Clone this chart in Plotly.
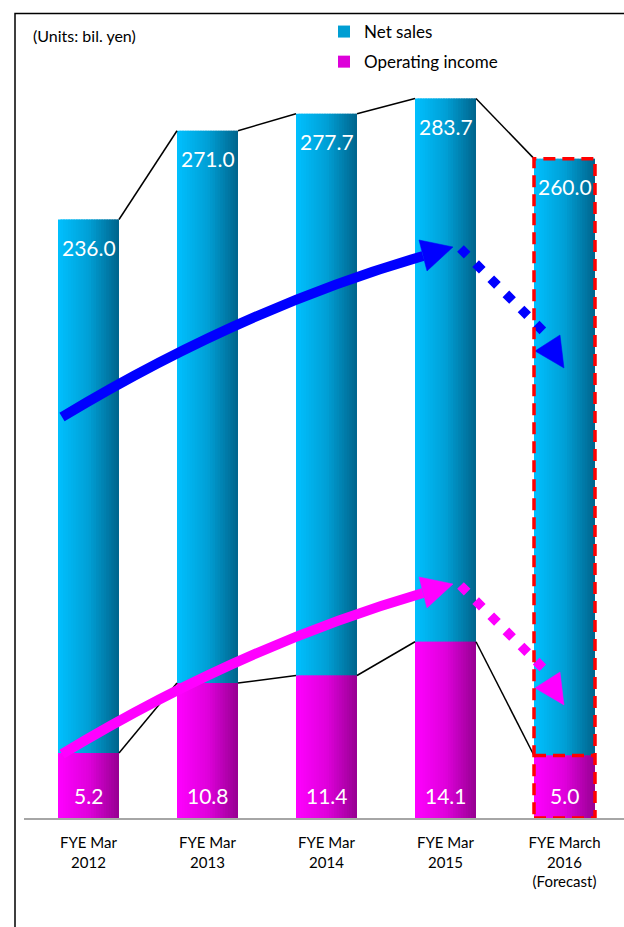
import plotly.graph_objects as go

# ---- data ----
categories = ["FYE Mar<br>2012", "FYE Mar<br>2013", "FYE Mar<br>2014",
              "FYE Mar<br>2015", "FYE March<br>2016<br>(Forecast)"]
net_sales = [236.0, 271.0, 277.7, 283.7, 260.0]
operating_income = [5.2, 10.8, 11.4, 14.1, 5.0]
net_sales_labels = ["236.0", "271.0", "277.7", "283.7", "260.0"]
oi_labels = ["5.2", "10.8", "11.4", "14.1", "5.0"]

# ---- layout geometry (pixels) ----
W_FIG, H_FIG = 624, 927
L, T = 24, 20
PW, PH = 600, 798
BASE = T + PH  # 818
NS_PX = 2.536   # px per bil. yen (net sales axis)
OI_PX = 12.5    # px per bil. yen (operating income axis)
CAT_PX = 119
FIRST_C = 88.5
BAR_W = 61 / CAT_PX

def px(x):
    return (x - L) / PW

def py(y):
    return (BASE - y) / PH

def lerp_color(stops, t):
    for (t0, c0), (t1, c1) in zip(stops[:-1], stops[1:]):
        if t0 <= t <= t1:
            f = (t - t0) / (t1 - t0)
            c = [round(a + (b - a) * f) for a, b in zip(c0, c1)]
            return "rgb(%d,%d,%d)" % tuple(c)
    return "rgb(%d,%d,%d)" % tuple(stops[-1][1])

blue_stops = [(0, (0, 192, 255)), (0.5, (0, 160, 214)), (1, (0, 100, 140))]
mag_stops = [(0, (255, 0, 255)), (0.5, (224, 0, 220)), (1, (150, 0, 145))]

xs = list(range(len(categories)))
fig = go.Figure()

N = 24
def add_gradient_bars(values, stops, yaxis, name, group):
    for k in range(N):
        start = -BAR_W / 2 + k * BAR_W / N
        width = min(1.8 * BAR_W / N, BAR_W / 2 - start)
        fig.add_trace(go.Bar(
            x=xs, y=values, width=[width] * len(xs), offset=[start] * len(xs),
            marker=dict(color=lerp_color(stops, (k + 0.5) / N), line=dict(width=0)),
            yaxis=yaxis, name=name, legendgroup=group,
            showlegend=(k == N // 2), hoverinfo="skip"))

add_gradient_bars(net_sales, blue_stops, "y", "Net sales", "ns")
add_gradient_bars(operating_income, mag_stops, "y2", "Operating income", "oi")

# connector lines between bar tops
def connector(values, yaxis):
    lx, ly = [], []
    for i in range(len(values) - 1):
        lx += [i + BAR_W / 2, i + 1 - BAR_W / 2, None]
        ly += [values[i], values[i + 1], None]
    fig.add_trace(go.Scatter(x=lx, y=ly, mode="lines", yaxis=yaxis,
                             line=dict(color="black", width=1.5),
                             showlegend=False, hoverinfo="skip"))

connector(net_sales, "y")
connector(operating_income, "y2")

annotations = []
FONT = "Lato"
for i in xs:
    annotations.append(dict(x=i, y=net_sales[i], xref="x", yref="y",
                            text=net_sales_labels[i], showarrow=False,
                            yanchor="middle", yshift=-28,
                            font=dict(family=FONT, size=21, color="white")))
    annotations.append(dict(x=i, y=0, xref="x", yref="y2",
                            text=oi_labels[i], showarrow=False,
                            yanchor="middle", yshift=23,
                            font=dict(family=FONT, size=21, color="white")))

annotations.append(dict(x=px(31), y=py(35), xref="paper", yref="paper",
                        text="(Units: bil. yen)", showarrow=False,
                        xanchor="left", yanchor="middle",
                        font=dict(family=FONT, size=16, color="black")))

shapes = []
# frame
shapes.append(dict(type="rect", xref="paper", yref="paper",
                   x0=px(15), x1=px(720), y0=py(13.5), y1=py(1000),
                   line=dict(color="black", width=1.5), layer="below"))

def arrow_set(color, dy):
    # solid curved arrow
    p0 = (62, 417 + dy); c = (241, 309 + dy); p2 = (423, 256 + dy)
    path = "M %f %f Q %f %f %f %f" % (px(p0[0]), py(p0[1]), px(c[0]), py(c[1]),
                                      px(p2[0]), py(p2[1]))
    shapes.append(dict(type="path", xref="paper", yref="paper", path=path,
                       line=dict(color=color, width=10), layer="above"))
    tri = [(453, 247 + dy), (419, 240 + dy), (427, 271 + dy)]
    shapes.append(dict(type="path", xref="paper", yref="paper",
                       path="M %f %f L %f %f L %f %f Z" % (px(tri[0][0]), py(tri[0][1]),
                                                          px(tri[1][0]), py(tri[1][1]),
                                                          px(tri[2][0]), py(tri[2][1])),
                       fillcolor=color, line=dict(color=color, width=0.5), layer="above"))
    # dotted arrow
    shapes.append(dict(type="line", xref="paper", yref="paper",
                       x0=px(460.5), y0=py(248.5 + dy), x1=px(545), y1=py(333 + dy),
                       line=dict(color=color, width=9.4, dash="9.4px,12px"), layer="above"))
    tri2 = [(564, 368 + dy), (535, 351 + dy), (560, 335 + dy)]
    shapes.append(dict(type="path", xref="paper", yref="paper",
                       path="M %f %f L %f %f L %f %f Z" % (px(tri2[0][0]), py(tri2[0][1]),
                                                          px(tri2[1][0]), py(tri2[1][1]),
                                                          px(tri2[2][0]), py(tri2[2][1])),
                       fillcolor=color, line=dict(color=color, width=0.5), layer="above"))

arrow_set("#0000FF", 0)
arrow_set("#FF00FF", 337)

# red dashed forecast box
fx = len(xs) - 1
shapes.append(dict(type="rect", xref="x", yref="y",
                   x0=fx - BAR_W / 2, x1=fx + BAR_W / 2, y0=0, y1=net_sales[fx],
                   line=dict(color="#FF0000", width=3.5, dash="12px,7px"), layer="above"))
shapes.append(dict(type="line", xref="x", yref="y2",
                   x0=fx - BAR_W / 2, x1=fx + BAR_W / 2,
                   y0=operating_income[fx], y1=operating_income[fx],
                   line=dict(color="#FF0000", width=3.5, dash="12px,7px"), layer="above"))

x_lo = -(FIRST_C - L) / CAT_PX
x_hi = (len(xs) - 1) + (L + PW - (FIRST_C + CAT_PX * (len(xs) - 1))) / CAT_PX

fig.update_layout(
    width=W_FIG, height=H_FIG,
    margin=dict(l=L, r=W_FIG - L - PW, t=T, b=H_FIG - BASE, pad=0),
    paper_bgcolor="white", plot_bgcolor="white",
    barmode="overlay",
    font=dict(family=FONT, color="black"),
    xaxis=dict(range=[x_lo, x_hi], tickvals=xs, ticktext=categories,
               showgrid=False, zeroline=False, showline=True,
               linecolor="#A6A6A6", linewidth=2, ticks="",
               tickfont=dict(family=FONT, size=15, color="black"),
               ticklabelstandoff=10, fixedrange=True),
    yaxis=dict(range=[0, PH / NS_PX], visible=False, fixedrange=True),
    yaxis2=dict(range=[0, PH / OI_PX], visible=False, overlaying="y",
                side="right", fixedrange=True),
    legend=dict(x=px(324), y=py(14), xanchor="left", yanchor="top",
                font=dict(family=FONT, size=17, color="black"),
                traceorder="grouped", tracegroupgap=5,
                bgcolor="rgba(0,0,0,0)", borderwidth=0),
    showlegend=True,
    annotations=annotations,
    shapes=shapes,
)

fig.write_html("out.html")
